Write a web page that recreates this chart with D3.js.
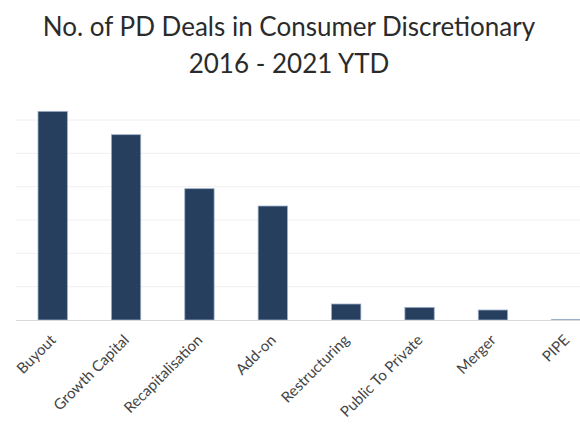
<!DOCTYPE html>
<html lang="en">
<head>
<meta charset="utf-8">
<title>No. of PD Deals in Consumer Discretionary</title>
<script src="https://cdn.jsdelivr.net/npm/d3@7"></script>
<style>
  body { margin: 0; background: #fff; }
  svg text { font-family: Lato, "Open Sans", sans-serif; }
</style>
</head>
<body>
<script>
  // values (one gridline = 50 deals, estimated)
  let dealTypes = ["Buyout", "Growth Capital", "Recapitalisation", "Add-on",
                   "Restructuring", "Public To Private", "Merger", "PIPE"]
  let dealCounts = [313, 278, 197, 171, 24, 19, 15, 1]
  let gridTicks = [0, 50, 100, 150, 200, 250, 300]

  let w = 580
  let h = 435
  let baseY = 320

  let svg = d3.select("body")
    .append("svg")
    .attr("width", w)
    .attr("height", h)

  let xScale = d3.scaleBand()
    .domain(dealTypes)
    .range([16, 603])
    .paddingInner(0.6)
    .paddingOuter(0.3)

  let yScale = d3.scaleLinear()
    .domain([0, 340])
    .range([baseY, baseY - 340 * 33.33 / 50])

  // gridlines
  svg.append("g")
    .selectAll("line")
    .data(gridTicks.slice(1))
    .enter()
    .append("line")
    .attr("x1", 16)
    .attr("x2", w)
    .attr("y1", (d) => yScale(d))
    .attr("y2", (d) => yScale(d))
    .attr("stroke", "#f0f0f0")
    .attr("stroke-width", 1)

  // bars
  svg.append("g")
    .selectAll("rect")
    .data(dealCounts)
    .enter()
    .append("rect")
    .attr("x", (d, i) => xScale(dealTypes[i]))
    .attr("y", (d) => yScale(d))
    .attr("width", xScale.bandwidth())
    .attr("height", (d) => baseY - yScale(d))
    .attr("fill", "#263f5f")
    .attr("stroke", "#9fb0c6")
    .attr("stroke-width", 0.8)

  // x axis
  let xAxis = d3.axisBottom(xScale).tickSize(0).tickPadding(0)
  let gx = svg.append("g")
    .attr("transform", "translate(0," + baseY + ")")
    .call(xAxis)
  gx.select(".domain").attr("stroke", "#d9d9d9").attr("d", "M16,0.5H" + w)
  gx.selectAll("text")
    .attr("font-size", 15)
    .attr("fill", "#444")
    .attr("text-anchor", "end")
    .attr("y", 0)
    .attr("dy", 0)
    .attr("transform", "translate(4,21) rotate(-45)")

  // title
  let title = svg.append("text")
    .attr("text-anchor", "middle")
    .attr("font-size", 26)
    .attr("fill", "#2b2b2b")
  title.append("tspan").attr("x", 289).attr("y", 36).text("No. of PD Deals in Consumer Discretionary")
  title.append("tspan").attr("x", 289).attr("y", 73).text("2016 - 2021 YTD")
</script>
</body>
</html>
